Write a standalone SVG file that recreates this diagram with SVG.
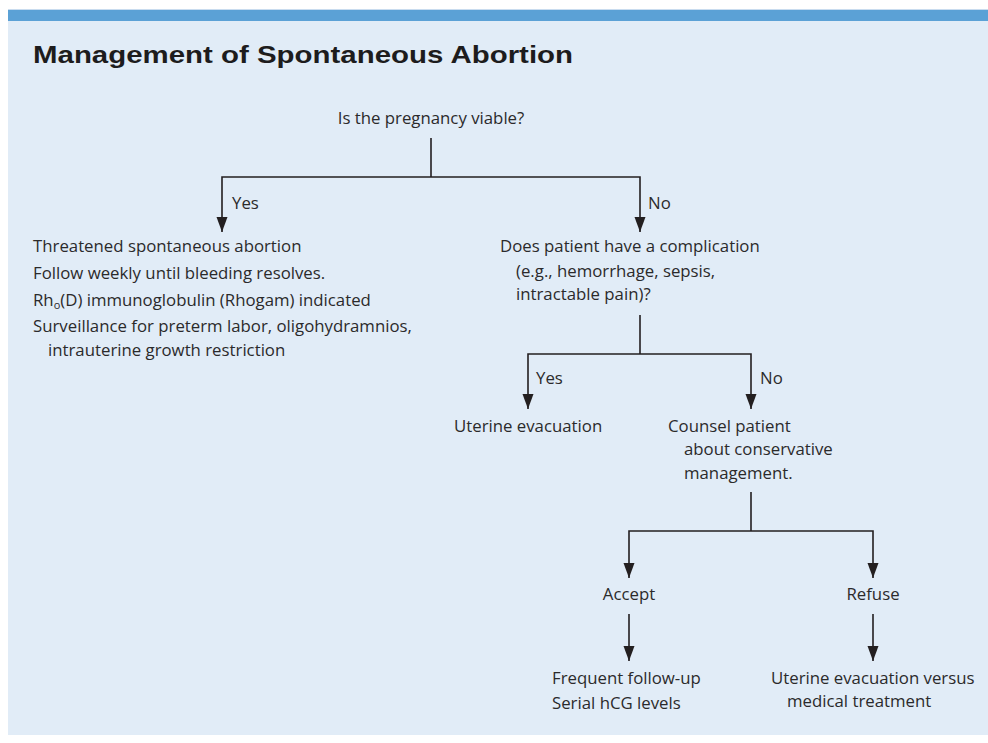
<svg xmlns="http://www.w3.org/2000/svg" width="988" height="743" viewBox="0 0 988 743">
<defs>
<marker id="ah" markerUnits="userSpaceOnUse" markerWidth="16" markerHeight="12" refX="15" refY="6" orient="auto" viewBox="0 0 16 12">
<path d="M0,0.5 L15,6 L0,11.5 Z" fill="#231f20"/>
</marker>
<style>
.t{font-family:"Open Sans","Noto Sans","Liberation Sans",sans-serif;font-size:16.8px;fill:#2b2a2b}
.m{text-anchor:middle}
.ttl{font-family:"Liberation Sans","Arial",sans-serif;font-size:24px;font-weight:bold;fill:#1d1c1d}
.c{fill:none;stroke:#231f20;stroke-width:1.6}
.a{marker-end:url(#ah)}
</style>
</defs>
<rect x="8" y="9" width="980" height="726" fill="#e1ecf7"/>
<rect x="8" y="9" width="980" height="1" fill="#c9dcef"/>
<rect x="8" y="10" width="980" height="11" fill="#5ba1d6"/>
<text class="ttl" x="33" y="63" textLength="540" lengthAdjust="spacingAndGlyphs">Management of Spontaneous Abortion</text>
<g id="connectors">
<path class="c" d="M431,138 V177"/>
<path class="c a" d="M431,177 H222 V232"/>
<path class="c a" d="M431,177 H640 V232"/>
<path class="c" d="M640,315 V354"/>
<path class="c a" d="M640,354 H528 V409"/>
<path class="c a" d="M640,354 H751 V409"/>
<path class="c" d="M751,492 V531"/>
<path class="c a" d="M751,531 H629 V578"/>
<path class="c a" d="M751,531 H873 V578"/>
<path class="c a" d="M629,614 V661"/>
<path class="c a" d="M873,614 V661"/>
<text class="t" x="232" y="209">Yes</text>
<text class="t" x="648" y="209">No</text>
<text class="t" x="536" y="384">Yes</text>
<text class="t" x="760" y="384">No</text>
</g>
<g id="n-viable"><text class="t m" x="431" y="124">Is the pregnancy viable?</text></g>
<g id="n-threatened">
<text class="t" x="33" y="252">Threatened spontaneous abortion</text>
<text class="t" x="33" y="279">Follow weekly until bleeding resolves.</text>
<text class="t" x="33" y="306">Rh<tspan font-size="11" dy="3">o</tspan><tspan dy="-3">(D) immunoglobulin (Rhogam) indicated</tspan></text>
<text class="t" x="33" y="332">Surveillance for preterm labor, oligohydramnios,</text>
<text class="t" x="48" y="356">intrauterine growth restriction</text>
</g>
<g id="n-complication">
<text class="t" x="500" y="252">Does patient have a complication</text>
<text class="t" x="516" y="277">(e.g., hemorrhage, sepsis,</text>
<text class="t" x="516" y="300">intractable pain)?</text>
</g>
<g id="n-evac"><text class="t" x="454" y="432">Uterine evacuation</text></g>
<g id="n-counsel">
<text class="t" x="668" y="432">Counsel patient</text>
<text class="t" x="684" y="455">about conservative</text>
<text class="t" x="684" y="479">management.</text>
</g>
<g id="n-accept"><text class="t m" x="629" y="600">Accept</text></g>
<g id="n-refuse"><text class="t m" x="873" y="600">Refuse</text></g>
<g id="n-followup">
<text class="t" x="552" y="684">Frequent follow-up</text>
<text class="t" x="552" y="709">Serial hCG levels</text>
</g>
<g id="n-evac2">
<text class="t" x="771" y="684">Uterine evacuation versus</text>
<text class="t" x="787" y="707">medical treatment</text>
</g>
</svg>
